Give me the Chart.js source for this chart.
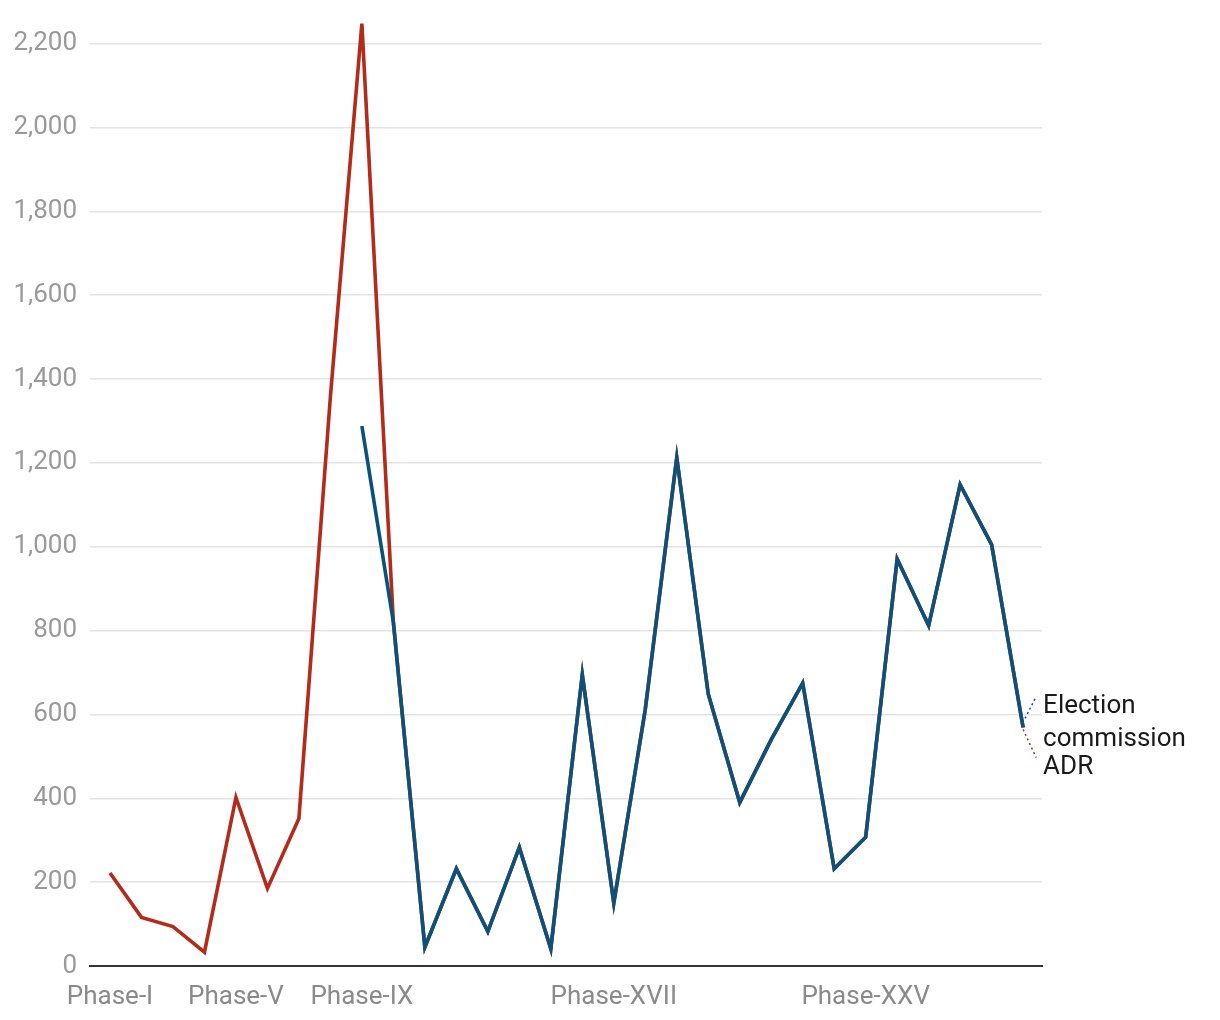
<!DOCTYPE html>
<html>
<head>
<meta charset="utf-8">
<script src="https://cdn.jsdelivr.net/npm/chart.js@4"></script>
<style>
  html, body { margin: 0; padding: 0; background: #fff; }
  #wrap { width: 1220px; height: 1020px; position: relative; }
</style>
</head>
<body>
<div id="wrap"><canvas id="chart"></canvas></div>
<script>
// Phases on the x axis
const phases = ['Phase-I', 'Phase-II', 'Phase-III', 'Phase-IV', 'Phase-V', 'Phase-VI', 'Phase-VII', 'Phase-VIII',
  'Phase-IX', 'Phase-X', 'Phase-XI', 'Phase-XII', 'Phase-XIII', 'Phase-XIV', 'Phase-XV', 'Phase-XVI',
  'Phase-XVII', 'Phase-XVIII', 'Phase-XIX', 'Phase-XX', 'Phase-XXI', 'Phase-XXII', 'Phase-XXIII', 'Phase-XXIV',
  'Phase-XXV', 'Phase-XXVI', 'Phase-XXVII', 'Phase-XXVIII', 'Phase-XXIX', 'Phase-XXX'];
const shownPhases = ['Phase-I', 'Phase-V', 'Phase-IX', 'Phase-XVII', 'Phase-XXV'];

// Election commission figures (start at Phase-IX)
const electionCommission = [null, null, null, null, null, null, null, null,
  1288, 820, 45, 232, 82, 283, 41, 695, 150, 612, 1213, 649, 390, 540, 675, 232, 307, 971, 812, 1148, 1005, 569];
// ADR figures
const adr = [222, 116, 94, 33, 402, 185, 352, 1358, 2248, 820, 45, 232, 82, 283, 41, 695, 150, 612, 1213, 649,
  390, 540, 675, 232, 307, 971, 812, 1148, 1005, 569];

const yTicks = [0, 200, 400, 600, 800, 1000, 1200, 1400, 1600, 1800, 2000, 2200];

const blue = '#0b527a';
const red = '#b32b1a';
const font = 'Roboto, "Liberation Sans", sans-serif';

function toPoints(arr) {
  return arr.map((v, i) => ({ x: i, y: v }));
}

// end labels with dotted leaders
const endLabels = {
  id: 'endLabels',
  afterDatasetsDraw(chart) {
    const ctx = chart.ctx;
    const pb = chart.getDatasetMeta(0).data[phases.length - 1];
    const pr = chart.getDatasetMeta(1).data[phases.length - 1];
    ctx.save();
    ctx.lineWidth = 1.5;
    ctx.setLineDash([2, 3]);
    ctx.strokeStyle = blue;
    ctx.beginPath();
    ctx.moveTo(pb.x + 2, pb.y - 9);
    ctx.lineTo(pb.x + 13, pb.y - 31);
    ctx.stroke();
    ctx.strokeStyle = red;
    ctx.beginPath();
    ctx.moveTo(pr.x, pr.y + 2);
    ctx.lineTo(pr.x + 13, pr.y + 30);
    ctx.stroke();
    ctx.setLineDash([]);
    ctx.fillStyle = '#1a1a1a';
    ctx.font = '26px ' + font;
    ctx.textAlign = 'left';
    ctx.textBaseline = 'alphabetic';
    ctx.fillText('Election', pb.x + 20, pb.y - 14);
    ctx.fillText('commission', pb.x + 20, pb.y + 19);
    ctx.fillText('ADR', pr.x + 20, pr.y + 47);
    ctx.restore();
  }
};

new Chart(document.getElementById('chart'), {
  type: 'line',
  data: {
    datasets: [
      {
        label: 'Election commission',
        data: toPoints(electionCommission),
        borderColor: blue,
        borderWidth: 3.6,
        pointRadius: 0,
        spanGaps: false,
        clip: false
      },
      {
        label: 'ADR',
        data: toPoints(adr),
        borderColor: red,
        borderWidth: 3.6,
        pointRadius: 0,
        clip: false
      }
    ]
  },
  options: {
    responsive: true,
    maintainAspectRatio: false,
    animation: false,
    layout: { padding: { top: 12.6, right: 178, left: 0, bottom: 0 } },
    plugins: { legend: { display: false }, tooltip: { enabled: false } },
    scales: {
      x: {
        type: 'linear',
        min: -0.635,
        max: 29.6,
        grid: { display: false, drawTicks: false },
        border: { display: true, color: '#333', width: 2 },
        afterBuildTicks: (s) => {
          s.ticks = phases.map((p, i) => ({ value: i })).filter(t => shownPhases.includes(phases[t.value]));
        },
        afterFit: (s) => { s.height = 54; },
        ticks: {
          autoSkip: false,
          maxRotation: 0,
          padding: 16,
          color: '#8a8a8a',
          font: { family: font, size: 26 },
          callback: (v) => phases[v]
        }
      },
      y: {
        min: 0,
        max: 2236,
        grid: { color: '#e3e3e3', lineWidth: 1.5, drawTicks: false },
        border: { display: false },
        afterBuildTicks: (s) => { s.ticks = yTicks.map(v => ({ value: v })); },
        afterFit: (s) => { s.width = 90; },
        ticks: {
          padding: 13,
          color: '#9a9a9a',
          font: { family: font, size: 26 },
          callback: (v) => v.toLocaleString('en-US')
        }
      }
    }
  },
  plugins: [endLabels]
});
</script>
</body>
</html>
